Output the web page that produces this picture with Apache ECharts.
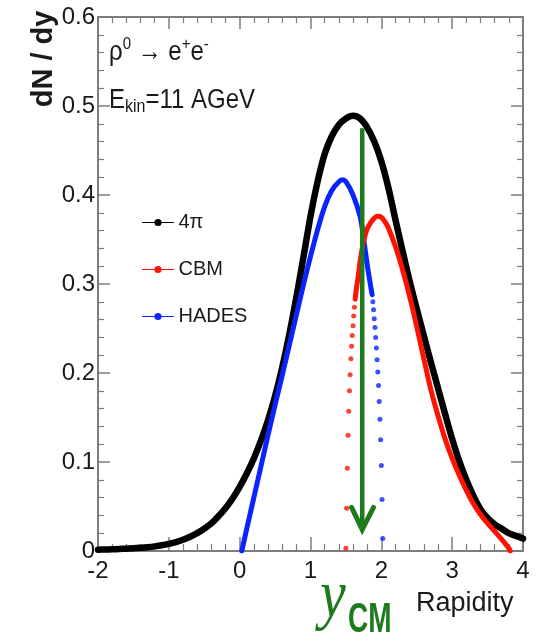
<!DOCTYPE html>
<html>
<head>
<meta charset="utf-8">
<script src="https://cdn.jsdelivr.net/npm/echarts@6/dist/echarts.min.js"></script>
<style>
  html, body { margin: 0; padding: 0; background: #ffffff; }
  #chart { width: 537px; height: 642px; }
</style>
</head>
<body>
<div id="chart"></div>
<script>
// rho0 -> e+e- rapidity distributions at E_kin = 11 AGeV

// full acceptance (4pi)
const rap4pi = [-2.0, -1.9, -1.8, -1.7, -1.6, -1.5, -1.4, -1.3, -1.2, -1.1,
                -1.0, -0.9, -0.8, -0.7, -0.6, -0.5, -0.4, -0.3, -0.2, -0.1,
                 0.0,  0.1,  0.2,  0.3,  0.4,  0.5,  0.6,  0.7,  0.8,  0.9,
                 1.0,  1.1,  1.2,  1.3,  1.4,  1.5,  1.6,  1.7,  1.8,  1.9,
                 2.0,  2.1,  2.2,  2.3,  2.4,  2.5,  2.6,  2.7,  2.8,  2.9,
                 3.0,  3.1,  3.2,  3.3,  3.4,  3.5,  3.6,  3.7,  3.8,  3.9, 4.0];
const dndy4pi = [0.0015, 0.0017, 0.0019, 0.0022, 0.0026, 0.0030, 0.0036, 0.0043, 0.0052, 0.0064,
                 0.0080, 0.0100, 0.0127, 0.0160, 0.0200, 0.0250, 0.0310, 0.0390, 0.0480, 0.0590,
                 0.0720, 0.0870, 0.1040, 0.1240, 0.1470, 0.1740, 0.2060, 0.2430, 0.2850, 0.3300,
                 0.3760, 0.4150, 0.4460, 0.4660, 0.4790, 0.4860, 0.4890, 0.4860, 0.4760, 0.4600,
                 0.4380, 0.4080, 0.3720, 0.3370, 0.3030, 0.2720, 0.2420, 0.2120, 0.1830, 0.1540,
                 0.1260, 0.1010, 0.0800, 0.0620, 0.0470, 0.0370, 0.0300, 0.0250, 0.0200, 0.0170, 0.0140];

// HADES acceptance: continuous part
const rapHades = [0.03, 0.1, 0.2, 0.3, 0.4, 0.5, 0.6, 0.7, 0.8, 0.9, 1.0, 1.1, 1.2,
                  1.3, 1.4, 1.45, 1.5, 1.6, 1.7, 1.75, 1.8, 1.84, 1.87];
const dndyHades = [0.000, 0.025, 0.060, 0.095, 0.130, 0.164, 0.197, 0.231, 0.265, 0.299, 0.331, 0.361, 0.387,
                   0.405, 0.415, 0.417, 0.415, 0.400, 0.376, 0.351, 0.322, 0.302, 0.288];
// HADES acceptance: single bins at the steep upper edge
const rapHadesEdge = [1.88, 1.89, 1.90, 1.91, 1.92, 1.93, 1.94, 1.95, 1.96, 1.97, 1.98, 1.99, 2.00, 2.01, 2.02];
const dndyHadesEdge = [0.280, 0.271, 0.261, 0.251, 0.240, 0.228, 0.215, 0.201, 0.186, 0.168, 0.148, 0.125, 0.096, 0.058, 0.014];

// CBM acceptance: single bins at the steep lower edge
const rapCbmEdge = [1.50, 1.51, 1.52, 1.53, 1.54, 1.55, 1.56, 1.57, 1.58, 1.59, 1.60, 1.61, 1.62];
const dndyCbmEdge = [0.003, 0.048, 0.093, 0.130, 0.157, 0.180, 0.198, 0.216, 0.230, 0.242, 0.253, 0.264, 0.274];
// CBM acceptance: continuous part
const rapCbm = [1.63, 1.65, 1.68, 1.70, 1.75, 1.80, 1.85, 1.90, 1.95, 2.00, 2.05, 2.10, 2.20, 2.30, 2.40,
                2.50, 2.60, 2.70, 2.80, 2.90, 3.00, 3.10, 3.20, 3.30, 3.40, 3.50, 3.60, 3.70, 3.80, 3.82];
const dndyCbm = [0.283, 0.296, 0.312, 0.325, 0.348, 0.362, 0.369, 0.374, 0.376, 0.375, 0.370, 0.363, 0.342, 0.316, 0.286,
                 0.252, 0.216, 0.181, 0.152, 0.126, 0.104, 0.085, 0.068, 0.053, 0.041, 0.031, 0.022, 0.013, 0.003, 0.000];

// centre-of-mass rapidity marker
const yCM = 1.73;
const arrowTop = 0.475;
const arrowTip = 0.024;
const arrowHeadX = [1.58, yCM, 1.89];
const arrowHeadY = [0.049, arrowTip, 0.049];

// axis ranges and tick spacing
const xRange = { min: -2, max: 4, interval: 1 };
const yRange = { min: 0, max: 0.6, interval: 0.1 };

const legendNames = ['4\u03c0', 'CBM', 'HADES'];

const pairs = (xs, ys) => xs.map((x, i) => [x, ys[i]]);

const BLACK = '#000000';
const RED = '#ff1200';
const BLUE = '#0a24ff';
const GREEN = '#1d7a1d';
const FRAME = '#7d7d7d';
const TEXT = '#1a1a1a';
const SANS = '"Liberation Sans", Arial, Helvetica, sans-serif';

function frameAxis(position, showLabels, tickLen, minorLen, range) {
  return {
    type: 'value',
    position: position,
    min: range.min,
    max: range.max,
    interval: range.interval,
    axisLine: { show: true, onZero: false, lineStyle: { color: FRAME, width: 2 } },
    axisTick: { show: true, inside: true, length: tickLen, lineStyle: { color: FRAME, width: 1.5 } },
    minorTick: { show: true, splitNumber: 5, length: minorLen, lineStyle: { color: FRAME, width: 1.2 } },
    splitLine: { show: false },
    axisLabel: showLabels
      ? { show: true, fontSize: 24, color: TEXT, fontFamily: SANS, margin: position === 'bottom' ? 8 : 3 }
      : { show: false }
  };
}

const curveLine = (color, width) => ({ color: color, width: width, cap: 'round', join: 'round' });

const chart = echarts.init(document.getElementById('chart'), null, { renderer: 'canvas' });

chart.setOption({
  animation: false,
  backgroundColor: '#ffffff',
  grid: { left: 98, right: 14, top: 17, bottom: 91, containLabel: false, outerBoundsMode: 'none' },
  xAxis: [
    frameAxis('bottom', true, 14, 7, xRange),
    frameAxis('top', false, 12, 6, xRange)
  ],
  yAxis: [
    frameAxis('left', true, 12, 6, yRange),
    frameAxis('right', false, 12, 6, yRange)
  ],
  legend: {
    data: legendNames,
    orient: 'vertical',
    left: 137,
    top: 207,
    itemWidth: 31,
    itemHeight: 9,
    itemGap: 26,
    selectedMode: false,
    lineStyle: { width: 1 },
    textStyle: { fontSize: 20, color: TEXT, fontFamily: SANS, lineHeight: 21 }
  },
  series: [
    {
      name: legendNames[0], type: 'line', data: pairs(rap4pi, dndy4pi),
      smooth: 0.3, symbol: 'circle', showSymbol: false, z: 2,
      lineStyle: curveLine(BLACK, 6.5), itemStyle: { color: BLACK }
    },
    {
      name: legendNames[2], type: 'line', data: pairs(rapHades, dndyHades),
      smooth: 0.3, symbol: 'circle', showSymbol: false, z: 3,
      lineStyle: curveLine(BLUE, 5), itemStyle: { color: BLUE }
    },
    {
      name: legendNames[2], type: 'scatter', data: pairs(rapHadesEdge, dndyHadesEdge),
      symbol: 'circle', symbolSize: 5, z: 3, itemStyle: { color: BLUE }
    },
    {
      name: legendNames[1], type: 'line', data: pairs(rapCbm, dndyCbm),
      smooth: 0.3, symbol: 'circle', showSymbol: false, z: 4,
      lineStyle: curveLine(RED, 5), itemStyle: { color: RED }
    },
    {
      name: legendNames[1], type: 'scatter', data: pairs(rapCbmEdge, dndyCbmEdge),
      symbol: 'circle', symbolSize: 5, z: 4, itemStyle: { color: RED }
    },
    {
      name: 'yCM shaft', type: 'line', data: [[yCM, arrowTop], [yCM, arrowTip + 0.004]],
      symbol: 'none', z: 6, lineStyle: { color: GREEN, width: 4.5, cap: 'butt' }
    },
    {
      name: 'yCM head', type: 'line', data: pairs(arrowHeadX, arrowHeadY),
      symbol: 'none', z: 6, lineStyle: { color: GREEN, width: 5, cap: 'round', join: 'miter' }
    }
  ],
  graphic: [
    {
      type: 'text', x: 44, y: 59, rotation: Math.PI / 2, z: 10,
      style: {
        text: 'dN / dy', fontSize: 29, fontWeight: 'bold', fontFamily: SANS,
        fill: TEXT, textAlign: 'center', textVerticalAlign: 'middle'
      }
    },
    {
      type: 'text', x: 109, y: 36, scaleY: 1.15, z: 10,
      style: {
        text: '{t|\u03c1}{s|0}{t| \u2192 e}{s|+}{t|e}{s|-}',
        textVerticalAlign: 'top',
        rich: {
          t: { fontSize: 24, lineHeight: 28, fontFamily: SANS, fill: TEXT },
          s: { fontSize: 15, lineHeight: 15, verticalAlign: 'top', fontFamily: SANS, fill: TEXT }
        }
      }
    },
    {
      type: 'text', x: 109, y: 84, scaleY: 1.15, z: 10,
      style: {
        text: '{t|E}{b|kin}{t|=11 AGeV}',
        textVerticalAlign: 'top',
        rich: {
          t: { fontSize: 24, lineHeight: 28, fontFamily: SANS, fill: TEXT },
          b: { fontSize: 16, lineHeight: 16, verticalAlign: 'bottom', fontFamily: SANS, fill: TEXT }
        }
      }
    },
    {
      type: 'text', x: 320, y: 566, scaleY: 1.15, z: 10,
      style: {
        text: 'y', fontSize: 58, fontStyle: 'italic',
        fontFamily: '"Liberation Serif", "DejaVu Serif", serif',
        fill: GREEN, textVerticalAlign: 'top'
      }
    },
    {
      type: 'text', x: 348, y: 598, scaleY: 1.55, z: 10,
      style: {
        text: 'CM', fontSize: 28, fontWeight: 'bold', fontFamily: SANS,
        fill: GREEN, textVerticalAlign: 'top'
      }
    },
    {
      type: 'text', x: 416, y: 590, z: 10,
      style: {
        text: 'Rapidity', fontSize: 27, fontFamily: SANS,
        fill: TEXT, textVerticalAlign: 'top'
      }
    }
  ]
});
</script>
</body>
</html>
